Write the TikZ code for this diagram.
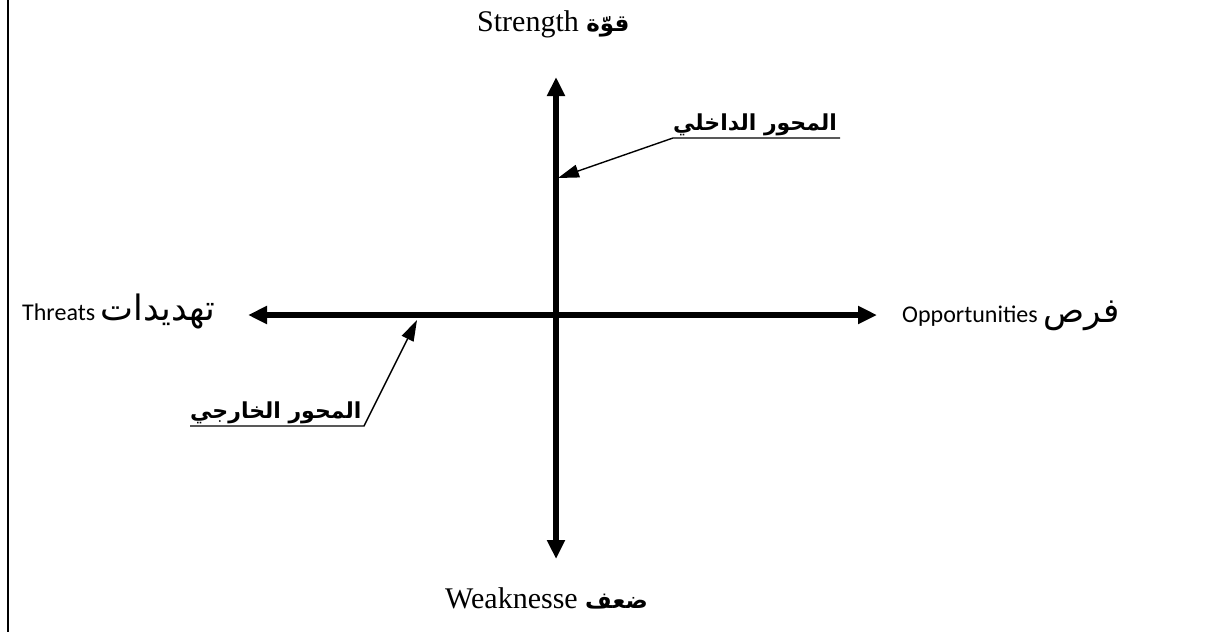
\documentclass[tikz,border=0pt]{standalone}
\usepackage{fontspec}
\setmainfont{Liberation Serif}
\newfontfamily\calfont{Carlito}
\newfontfamily\arabicfont[Script=Arabic]{DejaVu Sans}
\TeXXeTstate=1
\usetikzlibrary{arrows.meta}
\begin{document}
\begin{tikzpicture}[x=1pt,y=-1pt,
  axis/.style={line width=5.5pt,{Triangle[length=19pt,width=17pt]}-{Triangle[length=19pt,width=17pt]}},
  pointer/.style={line width=1.4pt,-{Triangle[length=21pt,width=13pt]}},
  lbl/.style={inner sep=0pt,anchor=base west},
  albl/.style={inner sep=0pt,anchor=base west,font=\arabicfont\bfseries\fontsize{22}{24}\selectfont}]
\useasboundingbox (0,0) rectangle (1215,632);
\draw[line width=2pt] (8,0) -- (8,632);
% axes
\coordinate (top) at (556,77);
\coordinate (bot) at (556,559);
\coordinate (left) at (248,315);
\coordinate (right) at (877,315);
\draw[axis] (top) -- (bot);
\draw[axis] (left) -- (right);
% labels
\node[lbl,font=\fontsize{30}{32}\selectfont] (s) at (477,31) {Strength {\arabicfont\bfseries\fontsize{23}{26}\selectfont\beginR قوّة\endR}};
\node[lbl,font=\fontsize{30}{32}\selectfont] (w) at (445,608) {Weaknesse {\arabicfont\bfseries\fontsize{23}{26}\selectfont\beginR ضعف\endR}};
\node[lbl,font=\calfont\fontsize{24}{26}\selectfont] (t) at (22,320) {Threats {\arabicfont\fontsize{35}{37}\selectfont\beginR تهديدات\endR}};
\node[lbl,font=\calfont\fontsize{24}{26}\selectfont] (o) at (902,322) {Opportunities {\arabicfont\fontsize{34}{36}\selectfont\beginR فرص\endR}};
% pointer labels
\node[albl] (inner) at (673,130) {\beginR المحور الداخلي\endR};
\node[albl] (outer) at (190,418) {\beginR المحور الخارجي\endR};
\coordinate (innertip) at (558,178);
\coordinate (outertip) at (417,320);
\coordinate (innerR) at (840,138);
\coordinate (innerL) at (673,138);
\coordinate (outerL) at (190,426);
\coordinate (outerR) at (364,426);
\draw[pointer] (innerR) -- (innerL) -- (innertip);
\draw[pointer] (outerL) -- (outerR) -- (outertip);
\end{tikzpicture}
\end{document}
